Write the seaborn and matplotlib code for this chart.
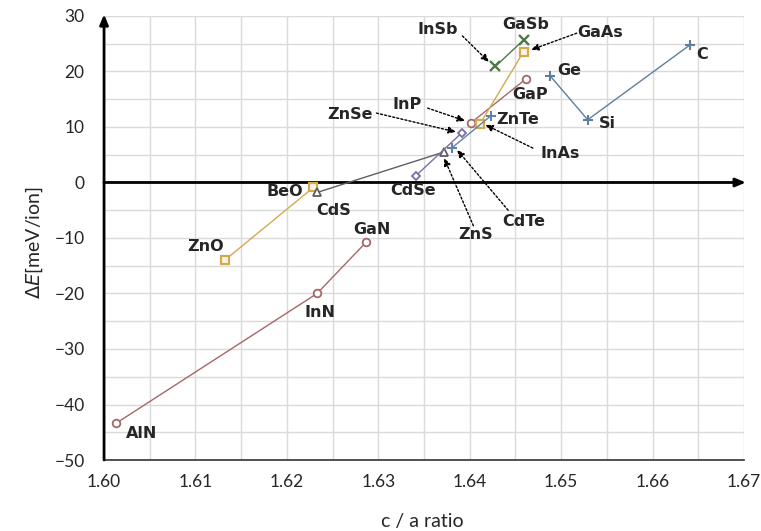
import numpy as np
import pandas as pd
import matplotlib
matplotlib.use("Agg")
import matplotlib.pyplot as plt
import seaborn as sns

# ============================================================
# DATA
# ============================================================
compounds = ["AlN", "InN", "GaN", "InP", "GaP", "ZnO", "BeO", "InAs", "GaAs",
             "CdS", "ZnS", "CdSe", "ZnSe", "CdTe", "ZnTe", "Ge", "Si", "C",
             "InSb", "GaSb"]
ca_ratio = [1.6013, 1.6233, 1.6287, 1.6401, 1.6461, 1.6132, 1.6229, 1.6411, 1.6459,
            1.6233, 1.6372, 1.6341, 1.6391, 1.6381, 1.6423, 1.6488, 1.6529, 1.6641,
            1.6428, 1.6459]
delta_e = [-43.4, -20.0, -10.7, 10.7, 18.6, -14.0, -0.9, 10.5, 23.6,
           -1.8, 5.5, 1.2, 8.9, 6.3, 12.0, 19.2, 11.3, 24.8,
           20.9, 25.7]
family = ["III-N", "III-N", "III-N", "III-N", "III-N", "sq", "sq", "sq", "sq",
          "II-S", "II-S", "II-Se", "II-Se", "II-Te", "II-Te", "IV", "IV", "IV",
          "III-Sb", "III-Sb"]
segment = [0, 0, 0, 1, 1, 2, 2, 3, 3, 4, 4, 5, 5, 6, 6, 7, 7, 7, 8, 8]

# label placement (data coords) and optional dotted arrow tails
label_pos = {
    "AlN": (1.6041, -45.3), "InN": (1.6236, -23.5), "GaN": (1.6293, -8.4),
    "ZnO": (1.6111, -11.6), "BeO": (1.6198, -1.7), "CdS": (1.6251, -5.1),
    "CdSe": (1.6338, -1.5), "ZnS": (1.6406, -9.3), "CdTe": (1.6459, -7.1),
    "InAs": (1.6499, 5.3), "ZnSe": (1.6269, 12.3), "InP": (1.6331, 14.1),
    "ZnTe": (1.6452, 11.4), "GaP": (1.6466, 15.9), "Si": (1.6550, 10.7),
    "Ge": (1.6509, 20.1), "C": (1.6654, 23.0), "InSb": (1.6365, 27.5),
    "GaSb": (1.6461, 28.4), "GaAs": (1.6543, 27.1),
}
arrows = {
    "InSb": ((1.6392, 26.4), (1.6421, 21.7)),
    "GaAs": ((1.6517, 26.9), (1.6467, 23.9)),
    "InP": ((1.6354, 13.4), (1.6395, 11.1)),
    "ZnSe": ((1.6298, 12.5), (1.6385, 9.1)),
    "InAs": ((1.6469, 6.2), (1.6417, 10.4)),
    "ZnS": ((1.6404, -7.8), (1.6372, 4.4)),
    "CdTe": ((1.6442, -5.0), (1.6386, 5.9)),
}

styles = {
    "III-N": dict(color="#a4686a", marker="o", ms=5.5, mfc="white", mew=1.3),
    "sq": dict(color="#d4aa4e", marker="s", ms=6, mfc="#fdf6e6", mew=1.6),
    "II-S": dict(color="#5f5f5f", marker="^", ms=6, mfc="white", mew=1.3),
    "II-Se": dict(color="#7b6ea3", marker="D", ms=4.5, mfc="white", mew=1.3),
    "II-Te": dict(color="#6283a6", marker="+", ms=7, mfc="white", mew=1.5),
    "IV": dict(color="#5f7f9f", marker="+", ms=7, mfc="white", mew=1.5),
    "III-Sb": dict(color="#4e7a4a", marker="x", ms=7, mfc="white", mew=1.7),
}

df = pd.DataFrame({"name": compounds, "ca": ca_ratio, "dE": delta_e,
                   "family": family, "segment": segment})

# ============================================================
# PLOT
# ============================================================
sns.set_style("white")
plt.rcParams["font.family"] = ["Lato", "DejaVu Sans"]

fig = plt.figure(figsize=(7.61, 5.31), dpi=100)
ax = fig.add_axes([0.1367, 0.1337, 0.8410, 0.8362])

for seg_id, seg in df.groupby("segment", sort=False):
    st = styles[seg["family"].iloc[0]]
    sns.lineplot(data=seg, x="ca", y="dE", sort=False, estimator=None,
                 color=st["color"], lw=1.0, marker=st["marker"], markersize=st["ms"],
                 markerfacecolor=st["mfc"], markeredgecolor=st["color"],
                 markeredgewidth=st["mew"], ax=ax, zorder=4)

for name, (lx, ly) in label_pos.items():
    ax.text(lx, ly, name, ha="center", va="center", fontsize=11.5,
            fontweight="bold", family="DejaVu Sans", zorder=6)

for name, (tail, head) in arrows.items():
    ax.annotate("", xy=head, xytext=tail, zorder=5,
                arrowprops=dict(arrowstyle="-|>,head_length=0.45,head_width=0.2",
                                lw=1.0, ls=(0, (1.5, 1.5)), color="black",
                                shrinkA=0, shrinkB=0))

ax.set_xlim(1.60, 1.67)
ax.set_ylim(-50, 30)
ax.set_xticks(np.arange(1.60, 1.6701, 0.01))
ax.set_xticks(np.arange(1.605, 1.67, 0.01), minor=True)
ax.set_yticks(np.arange(-50, 31, 10))
ax.set_yticks(np.arange(-45, 30, 10), minor=True)
ax.set_xticklabels([f"{v:.2f}" for v in np.arange(1.60, 1.6701, 0.01)])
ax.grid(True, which="both", color="#dadada", lw=1.0, zorder=0)
ax.set_axisbelow(True)
ax.tick_params(length=0, labelsize=12.5)
ax.tick_params(axis="x", pad=10)
ax.tick_params(axis="y", pad=14)

for side in ["top", "right", "left"]:
    ax.spines[side].set_visible(False)
ax.spines["bottom"].set_color("#333333")
ax.spines["bottom"].set_linewidth(1.2)

# left axis and zero line drawn as arrows
ax.annotate("", xy=(1.60, 30.3), xytext=(1.60, -50), annotation_clip=False,
            arrowprops=dict(arrowstyle="-|>,head_length=0.6,head_width=0.25",
                            lw=2.0, color="black", shrinkA=0, shrinkB=0), zorder=3)
ax.annotate("", xy=(1.6702, 0), xytext=(1.60, 0), annotation_clip=False,
            arrowprops=dict(arrowstyle="-|>,head_length=0.6,head_width=0.25",
                            lw=2.0, color="black", shrinkA=0, shrinkB=0), zorder=3)

ax.set_xlabel("c / a ratio", fontsize=14)
ax.set_ylabel(r"$\Delta E$[meV/ion]", fontsize=14)
ax.xaxis.set_label_coords(0.497, -0.12)
ax.yaxis.set_label_coords(-0.092, 0.49)

fig.savefig("out.png", dpi=100)
